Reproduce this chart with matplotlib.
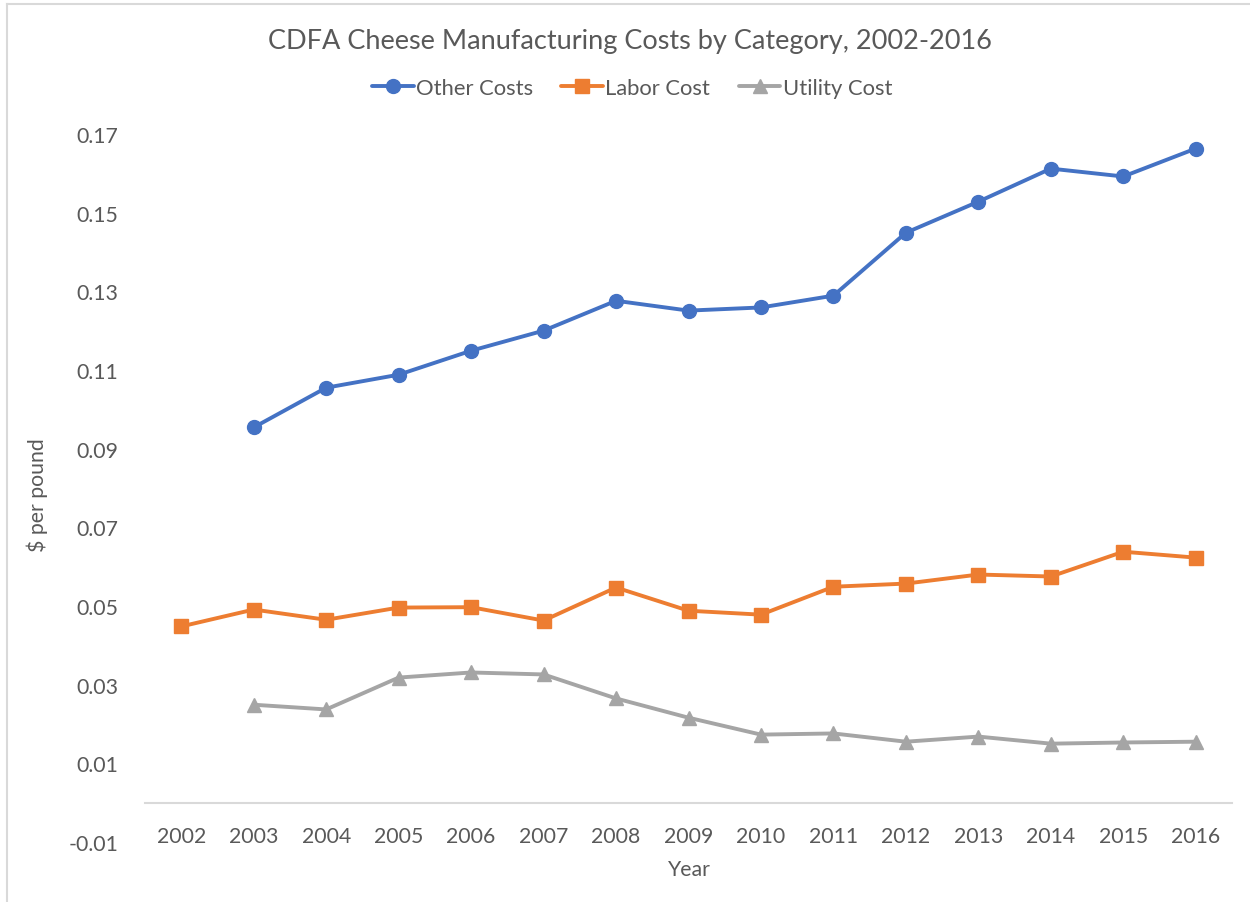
import matplotlib
matplotlib.use("Agg")
import matplotlib.pyplot as plt
from matplotlib.lines import Line2D

plt.rcParams['font.family'] = ['Lato', 'DejaVu Sans']

years = list(range(2002, 2017))
other_costs = [None, 0.0954, 0.1055, 0.1088, 0.1149, 0.1200, 0.1276, 0.1251,
               0.1259, 0.1289, 0.1449, 0.1528, 0.1612, 0.1592, 0.1663]
labor_cost = [0.0448, 0.0491, 0.0465, 0.0496, 0.0497, 0.0463, 0.0547, 0.0488,
              0.0478, 0.0549, 0.0557, 0.0580, 0.0575, 0.0638, 0.0623]
utility_cost = [None, 0.0249, 0.0237, 0.0318, 0.0331, 0.0326, 0.0265, 0.0216,
                0.0173, 0.0176, 0.0155, 0.0168, 0.0150, 0.0153, 0.0155]
y_ticks = [-0.01, 0.01, 0.03, 0.05, 0.07, 0.09, 0.11, 0.13, 0.15, 0.17]

text_col = "#595959"

fig = plt.figure(figsize=(12.5, 9.03), dpi=100)
ax = fig.add_axes([145/1250, 60/903, 1087/1250, 708/903])

def clean(xs, ys):
    pts = [(x, y) for x, y in zip(xs, ys) if y is not None]
    return [p[0] for p in pts], [p[1] for p in pts]

series = [
    ("Other Costs", other_costs, "#4472C4", "o"),
    ("Labor Cost", labor_cost, "#ED7D31", "s"),
    ("Utility Cost", utility_cost, "#A5A5A5", "^"),
]
for name, vals, col, mk in series:
    xs, ys = clean(years, vals)
    ax.plot(xs, ys, color=col, lw=2.8, marker=mk, markersize=10,
            label=name, solid_capstyle='round')

ax.set_xlim(2001.5, 2016.5)
ax.set_ylim(-0.01, 0.17)
ax.set_yticks(y_ticks)
ax.set_yticklabels([f"{v:.2f}" for v in y_ticks])
ax.set_xticks(years)
ax.set_xticklabels([str(y) for y in years])

for s in ['top', 'right', 'left']:
    ax.spines[s].set_visible(False)
ax.spines['bottom'].set_position(('data', 0))
ax.spines['bottom'].set_color("#D9D9D9")
ax.spines['bottom'].set_linewidth(1.5)
ax.tick_params(axis='both', length=0, labelsize=15.3, colors=text_col)
ax.tick_params(axis='y', pad=19)
ax.tick_params(axis='x', pad=17)

fig.text(689/1250, 1 - 870/903, "Year", ha='center', va='center',
         fontsize=15.3, color=text_col)
fig.text(37/1250, 1 - 495/903, "$ per pound", ha='center', va='center',
         rotation=90, fontsize=15.3, color=text_col)
fig.text(630/1250, 1 - 41/903,
         "CDFA Cheese Manufacturing Costs by Category, 2002-2016",
         ha='center', va='center', fontsize=19.5, color=text_col)

fig.legend(loc='center', bbox_to_anchor=(632/1250, 1 - 89/903), ncol=3,
           frameon=False, fontsize=15.8, labelcolor=text_col,
           handlelength=1.9, handletextpad=0.1, columnspacing=1.3)

# chart border (only left and top edges visible)
fig.add_artist(Line2D([7/1250, 7/1250], [0, 1 - 5/903], color="#D9D9D9",
                      lw=1.5, transform=fig.transFigure))
fig.add_artist(Line2D([7/1250, 1], [1 - 5/903, 1 - 5/903], color="#D9D9D9",
                      lw=1.5, transform=fig.transFigure))

fig.savefig("out.png", dpi=100)
